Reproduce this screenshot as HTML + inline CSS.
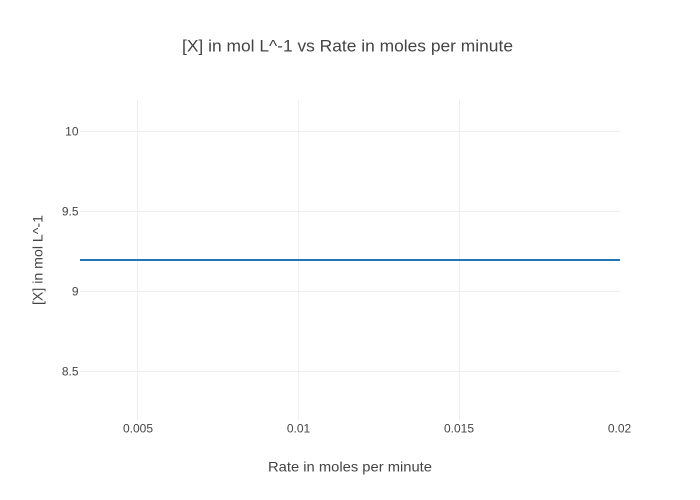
<!DOCTYPE html>
<html>
<head>
<meta charset="utf-8">
<style>
  html, body { margin: 0; padding: 0; background: #fff; }
  svg { display: block; }
  text { font-family: "Liberation Sans", "DejaVu Sans", sans-serif; fill: #444; }
</style>
</head>
<body>
<svg width="700" height="500" viewBox="0 0 700 500" xmlns="http://www.w3.org/2000/svg">
  <rect x="0" y="0" width="700" height="500" fill="#fff"/>
  <!-- grid -->
  <g stroke="#eeeeee" stroke-width="1" fill="none">
    <line x1="137.5" y1="100" x2="137.5" y2="420"/>
    <line x1="298.5" y1="100" x2="298.5" y2="420"/>
    <line x1="459.5" y1="100" x2="459.5" y2="420"/>
    <line x1="80" y1="131.5" x2="620" y2="131.5"/>
    <line x1="80" y1="211.5" x2="620" y2="211.5"/>
    <line x1="80" y1="291.5" x2="620" y2="291.5"/>
    <line x1="80" y1="371.5" x2="620" y2="371.5"/>
  </g>
  <!-- data line -->
  <line x1="80" y1="260" x2="620" y2="260" stroke="#1f77b4" stroke-width="2"/>
  <!-- x tick labels -->
  <g font-size="12" text-anchor="middle">
    <text x="138" y="432.5">0.005</text>
    <text x="298.5" y="432.5">0.01</text>
    <text x="459" y="432.5">0.015</text>
    <text x="619.5" y="432.5">0.02</text>
  </g>
  <!-- y tick labels -->
  <g font-size="12" text-anchor="end">
    <text x="78.5" y="135.5">10</text>
    <text x="78.5" y="215.5">9.5</text>
    <text x="78.5" y="295.5">9</text>
    <text x="78.5" y="375.5">8.5</text>
  </g>
  <!-- title -->
  <text x="347.5" y="51.5" font-size="17" text-anchor="middle" textLength="331" lengthAdjust="spacingAndGlyphs">[X] in mol L^-1 vs Rate in moles per minute</text>
  <!-- x axis title -->
  <text x="350" y="471.5" font-size="14" text-anchor="middle" textLength="164" lengthAdjust="spacingAndGlyphs">Rate in moles per minute</text>
  <!-- y axis title -->
  <text transform="translate(42.5,260) rotate(-90)" x="0" y="0" font-size="14" text-anchor="middle" textLength="90" lengthAdjust="spacingAndGlyphs">[X] in mol L^-1</text>
</svg>
</body>
</html>
